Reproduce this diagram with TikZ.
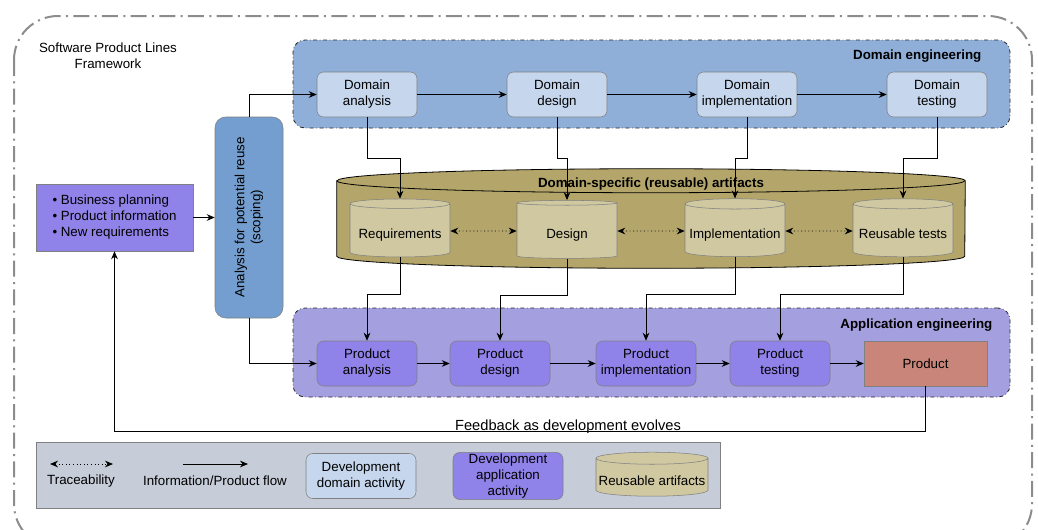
\documentclass[tikz,border=0pt]{standalone}
\usepackage{fontspec}
\setmainfont{Liberation Sans}
\usetikzlibrary{shapes.geometric,arrows.meta,positioning,calc}
\definecolor{SPLDomGrp} {HTML}{8FAFD8}
\definecolor{SPLDomAct} {HTML}{C5D6ED}
\definecolor{SPLScope}  {HTML}{739ECF}
\definecolor{SPLAppGrp} {HTML}{A49FDF}
\definecolor{SPLAppAct} {HTML}{8F82E8}
\definecolor{SPLProduct}{HTML}{C98579}
\definecolor{SPLOlive}  {HTML}{B4A66B}
\definecolor{SPLStore}  {HTML}{D0C8A1}
\definecolor{SPLLegend} {HTML}{C6CDD8}
\definecolor{SPLFrame}  {HTML}{8C8C8C}
\definecolor{SPLEdge}   {HTML}{808080}

\tikzset{
  txt/.style={font=\fontsize{10}{12}\selectfont,text=black},
  act/.style={txt,draw=SPLEdge,rounded corners=5pt,align=center,
    minimum width=75pt,minimum height=33.75pt,inner sep=1pt},
  domact/.style={act,fill=SPLDomAct},
  appact/.style={act,fill=SPLAppAct},
  grp/.style={draw=black!85,dash dot,line width=0.6pt,rounded corners=9pt},
  store/.style={txt,cylinder,shape border rotate=90,aspect=0.11,draw=SPLEdge,
    fill=SPLStore,minimum width=75pt,minimum height=43.5pt,inner sep=1pt,
    text height=11pt,text depth=0pt},
  flow/.style={-{Stealth[length=6pt,width=5pt]},line width=0.6pt},
  trace/.style={{Stealth[length=6pt,width=5pt]}-{Stealth[length=6pt,width=5pt]},
    dotted,line width=0.7pt},
}

\begin{document}
\begin{tikzpicture}[x=0.75pt,y=-0.75pt]
  \useasboundingbox (0,0) rectangle (1038,529);
  % Outer frame
  \draw[SPLFrame,line width=1.5pt,dash pattern=on 12pt off 4pt on 1.5pt off 4pt,rounded corners=33pt]
    (14,16) rectangle (1032,548);
  \node[txt,align=center] (title) at (108,56) {Software Product Lines\\Framework};

  % Groups
  \node[grp,fill=SPLDomGrp,minimum width=537.75pt,minimum height=66pt] (domgrp) at (651.5,84) {};
  \node[txt,font=\fontsize{10}{12}\selectfont\bfseries,anchor=east] (domlbl) at (986,56) {Domain engineering};
  \node[grp,fill=SPLAppGrp,minimum width=537.75pt,minimum height=66.75pt] (appgrp) at (651.5,352.5) {};
  \node[txt,font=\fontsize{10}{12}\selectfont\bfseries,anchor=east] (applbl) at (997,325) {Application engineering};

  % Domain activities
  \node[domact] (dana) at (367,94.5) {Domain\\analysis};
  \node[domact] (ddes) at (557,94.5) {Domain\\design};
  \node[domact] (dimp) at (747,94.5) {Domain\\implementation};
  \node[domact] (dtst) at (937,94.5) {Domain\\testing};

  % Reusable artifacts
  \node[minimum width=471pt,minimum height=74.25pt,inner sep=0pt] (repo) at (651,218.5) {};
  \draw[black,line width=0.6pt,fill=SPLOlive]
    ($(repo.north west)+(0,12)$) -- ($(repo.south west)+(0,-12)$)
    arc[start angle=180,end angle=360,x radius=235.5pt,y radius=9pt]
    -- ($(repo.north east)+(0,12)$)
    arc[start angle=0,end angle=180,x radius=235.5pt,y radius=9pt] -- cycle;
  \draw[black,line width=0.6pt] ($(repo.north west)+(0,12)$)
    arc[start angle=180,end angle=360,x radius=235.5pt,y radius=9pt];
  \node[txt,font=\fontsize{10}{12}\selectfont\bfseries] (repolbl) at (651,184) {Domain-specific (reusable) artifacts};
  \node[store] (req) at (400,231) {Requirements};
  \node[store] (des) at (567,231) {Design};
  \node[store] (imp) at (735,231) {Implementation};
  \node[store] (tst) at (903,231) {Reusable tests};

  % Application activities
  \node[appact] (pana) at (367,363.5) {Product\\analysis};
  \node[appact] (pdes) at (500,363.5) {Product\\design};
  \node[appact] (pimp) at (646,363.5) {Product\\implementation};
  \node[appact] (ptst) at (780,363.5) {Product\\testing};
  \node[txt,draw=SPLEdge,fill=SPLProduct,minimum width=92.25pt,minimum height=33.75pt] (prod) at (925.5,363.5) {Product};

  % Inputs and scoping
  \node[txt,draw=SPLEdge,fill=SPLAppAct,align=left,minimum width=117.75pt,minimum height=50.25pt] (needs) at (114.5,217.5)
    {\textbullet{} Business planning\\\textbullet{} Product information\\\textbullet{} New requirements};
  \node[draw=SPLEdge,fill=SPLScope,rounded corners=8pt,minimum width=51pt,minimum height=150.75pt] (scope) at (249,217.5) {};
  \node[txt,rotate=90,align=center] (scopetxt) at (scope.center) {Analysis for potential reuse\\(scoping)};

  % Flows
  \draw[flow] (needs.east) -- (scope.west);
  \draw[flow] (scope.north) |- (dana.west);
  \draw[flow] (scope.south) |- (pana.west);
  \draw[flow] (dana) -- (ddes);
  \draw[flow] (ddes) -- (dimp);
  \draw[flow] (dimp) -- (dtst);
  \draw[flow] (dana.south) -- ++(0,41) -| (req.north);
  \draw[flow] (ddes.south) -- ++(0,41) -| (des.north);
  \draw[flow] (dimp.south) -- ++(0,41) -| (imp.north);
  \draw[flow] (dtst.south) -- ++(0,41) -| (tst.north);
  \draw[trace] (req) -- (des);
  \draw[trace] (des) -- (imp);
  \draw[trace] (imp) -- (tst);
  \draw[flow] (req.south) -- ++(0,37) -| (pana.north);
  \draw[flow] (des.south) -- ++(0,37) -| (pdes.north);
  \draw[flow] (imp.south) -- ++(0,37) -| (pimp.north);
  \draw[flow] (tst.south) -- ++(0,37) -| (ptst.north);
  \draw[flow] (pana) -- (pdes);
  \draw[flow] (pdes) -- (pimp);
  \draw[flow] (pimp) -- (ptst);
  \draw[flow] (ptst) -- (prod);
  \draw[flow] (prod.south) -- ++(0,45.5) -| (needs.south);
  \node[txt,font=\fontsize{11}{13}\selectfont] (fbk) at (568,427) {Feedback as development evolves};

  % Legend
  \node[draw=SPLEdge,fill=SPLLegend,minimum width=513pt,minimum height=49.5pt] (legend) at (378,475) {};
  \coordinate (tra) at (50,464);
  \coordinate (trb) at (113,464);
  \draw[trace] (tra) -- (trb);
  \node[txt] (tralbl) at (81,481) {Traceability};
  \coordinate (fla) at (183,464);
  \coordinate (flb) at (248,464);
  \draw[flow] (fla) -- (flb);
  \node[txt] (fllbl) at (215,481) {Information/Product flow};
  \node[domact,minimum width=82.5pt] (legdom) at (361,476) {Development\\domain activity};
  \node[appact,minimum width=82.5pt] (legapp) at (508,476) {Development\\application\\activity};
  \node[store,minimum width=84pt,minimum height=33pt,aspect=0.11] (legart) at (652,478) {Reusable artifacts};
\end{tikzpicture}
\end{document}
